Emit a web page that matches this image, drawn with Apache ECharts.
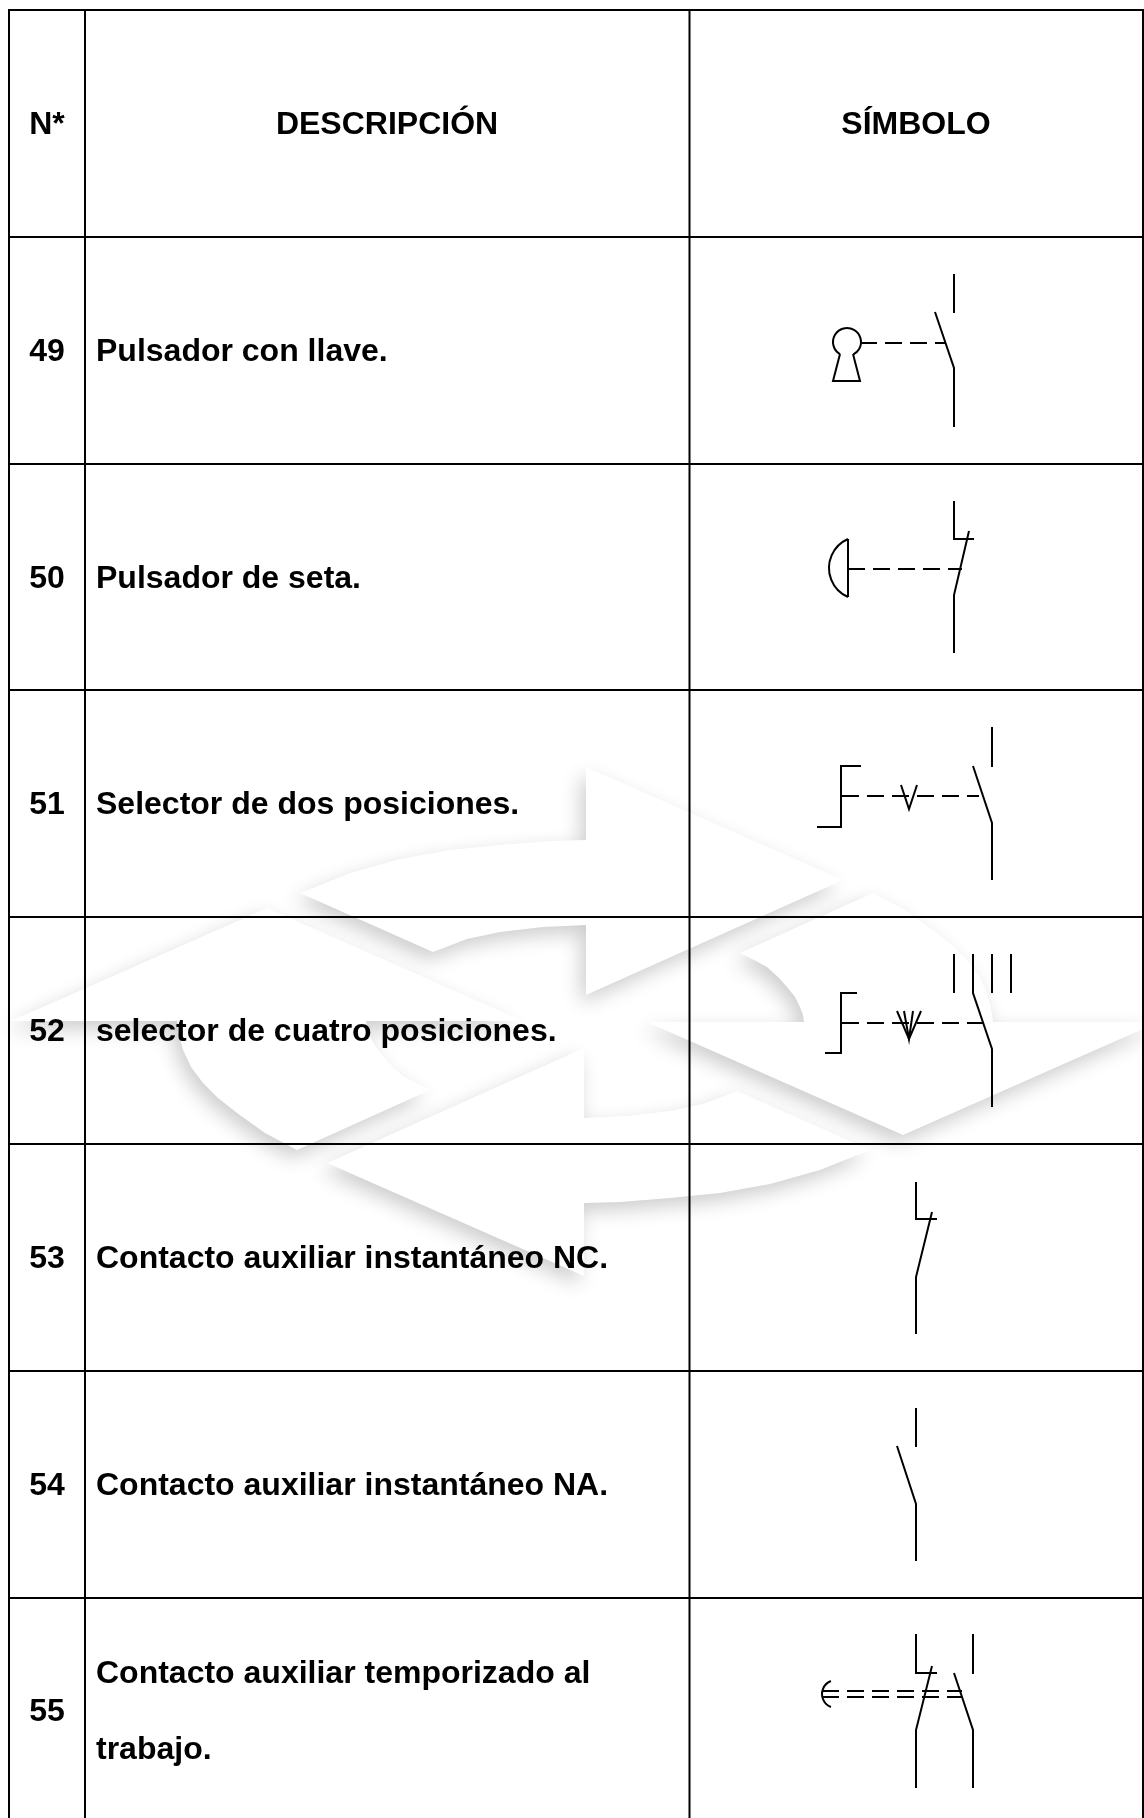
<!DOCTYPE html>
<html>
<head>
<meta charset="utf-8">
<style>html,body{margin:0;padding:0;background:#fff}#c{width:1144px;height:1818px}</style>
<script src="https://cdn.jsdelivr.net/npm/echarts@6/dist/echarts.min.js"></script>
</head>
<body>
<div id="c"></div>
<script>
// Table structure
const rowLines = [10, 237, 464, 690, 917, 1144, 1371, 1598, 1818];
const colLines = [9, 85, 689.5, 1143];
const headers = ['N*', 'DESCRIPCIÓN', 'SÍMBOLO'];
const numbers = ['49', '50', '51', '52', '53', '54', '55'];
const descriptions = [
  ['Pulsador con llave.'],
  ['Pulsador de seta.'],
  ['Selector de dos posiciones.'],
  ['selector de cuatro posiciones.'],
  ['Contacto auxiliar instantáneo NC.'],
  ['Contacto auxiliar instantáneo NA.'],
  ['Contacto auxiliar temporizado al', 'trabajo.']
];

// Symbol drawings, in page units
const solidLines = [
  // 49
  [[954,274],[954,313]], [[935,312],[954,368],[954,427]],
  [[840,354],[833,381],[860,381],[853,354]],
  // 50
  [[954,501],[954,539],[974,539]], [[969,531],[954,595],[954,653]],
  [[848,539],[848,597]],
  // 51
  [[992,727],[992,767]], [[973,766],[992,823],[992,880]],
  [[861,766],[841,766],[841,827],[817,827]],
  [[901,785],[909,809],[917,785]],
  // 52
  [[954,954],[954,993]], [[973,954],[973,993],[992,1049],[992,1107]],
  [[992,954],[992,993]], [[1011,954],[1011,993]],
  [[857,993],[841,993],[841,1053],[825,1053]],
  [[897,1011],[909,1039],[921,1011]], [[904,1011],[909,1039],[913,1011]],
  // 53
  [[916,1182],[916,1219],[937,1219]], [[932,1212],[916,1277],[916,1334]],
  // 54
  [[916,1408],[916,1447]], [[897,1446],[916,1504],[916,1561]],
  // 55
  [[916,1634],[916,1673],[937,1673]], [[932,1666],[916,1730],[916,1788]],
  [[973,1634],[973,1674]], [[954,1673],[973,1730],[973,1788]],
  [[822,1691],[831,1691]]
];
const dashedLines = [
  [[860,343],[945,343]],
  [[848,569],[962,569]],
  [[842,796],[979,796]],
  [[842,1023],[983,1023]],
  [[822,1691],[962,1691]],
  [[822,1697],[962,1697]]
];
// cx, cy, r, start degrees, end degrees
const arcs = [
  [847,342,14,120,423],
  [860.6,568,31.6,113.5,246.5],
  [835.9,1694,13.9,111,249]
];

// Watermark arrows
const wmCenter = [585, 1021.5];
const wmTop = [[586,767],[843,880],[586,995],[586,925],[543,927],[500,932],[467,939],[433,952],[300,893],[350,873],[400,859],[450,850],[500,845],[550,841],[586,840]];
const wmRight = [[873,893],[905,910],[933,930],[952,945],[967,960],[979,976],[987,993],[991,1008],[993,1022],[1159,1022],[903,1135],[647,1022],[804,1022],[803,1015],[800,1007],[795,997],[787,987],[778,977],[767,967],[754,960],[740,953]];
const flip = pts => pts.map(p => [2 * wmCenter[0] - p[0], 2 * wmCenter[1] - p[1]]);
const watermark = [wmTop, wmRight, flip(wmTop), flip(wmRight)];

const gridSegments = [];
rowLines.slice(0, -1).forEach(y => gridSegments.push([[colLines[0] - 1, y], [colLines[3] + 1, y]]));
colLines.forEach(x => gridSegments.push([[x, rowLines[0] - 1], [x, rowLines[8]]]));

const textItems = [];
const FS = 32, NUMX = 47, DESCX = 96, HEADX = [47, 387, 916], TEXTDY = 2, LASTROWDY = 2.5;
headers.forEach((t, i) => textItems.push([t, HEADX[i], (rowLines[0] + rowLines[1]) / 2 + TEXTDY, 'center']));
numbers.forEach((t, i) => textItems.push([t, NUMX, (rowLines[i + 1] + rowLines[i + 2]) / 2 + TEXTDY + (i === 6 ? LASTROWDY : 0), 'center']));
descriptions.forEach((lines, i) => {
  const mid = (rowLines[i + 1] + rowLines[i + 2]) / 2 + TEXTDY + (i === 6 ? LASTROWDY : 0);
  lines.forEach((t, j) => textItems.push([t, DESCX, mid + (j - (lines.length - 1) / 2) * 76, 'left']));
});

const pts = (api, list) => list.map(p => api.coord(p));
const idx = list => list.map((_, i) => [i, 0]);
const axisHidden = { show: false };

const chart = echarts.init(document.getElementById('c'), null, { renderer: 'canvas' });
chart.setOption({
  animation: false,
  backgroundColor: '#ffffff',
  tooltip: { show: false },
  grid: { left: 0, right: 0, top: 0, bottom: 0 },
  xAxis: { type: 'value', min: 0, max: 1144, ...axisHidden },
  yAxis: { type: 'value', min: 0, max: 1818, inverse: true, ...axisHidden },
  series: [
    {
      type: 'custom', silent: true, clip: true, z: 1, data: idx(watermark),
      renderItem: (p, api) => ({
        type: 'polygon',
        shape: { points: pts(api, watermark[p.dataIndex]) },
        style: { fill: '#ffffff', shadowBlur: 20, shadowColor: 'rgba(0,0,0,0.2)', shadowOffsetX: -5, shadowOffsetY: 8 }
      })
    },
    {
      type: 'custom', silent: true, clip: true, z: 2, data: idx(gridSegments),
      renderItem: (p, api) => ({
        type: 'polyline',
        shape: { points: pts(api, gridSegments[p.dataIndex]) },
        style: { stroke: '#000', lineWidth: 2, fill: null }
      })
    },
    {
      type: 'custom', silent: true, z: 3, data: idx(solidLines),
      renderItem: (p, api) => ({
        type: 'polyline',
        shape: { points: pts(api, solidLines[p.dataIndex]) },
        style: { stroke: '#000', lineWidth: 2, fill: null, lineJoin: 'miter' }
      })
    },
    {
      type: 'custom', silent: true, z: 3, data: idx(dashedLines),
      renderItem: (p, api) => ({
        type: 'polyline',
        shape: { points: pts(api, dashedLines[p.dataIndex]) },
        style: { stroke: '#000', lineWidth: 2, fill: null, lineDash: [17, 8] }
      })
    },
    {
      type: 'custom', silent: true, z: 3, data: idx(arcs),
      renderItem: (p, api) => {
        const a = arcs[p.dataIndex];
        const c = api.coord([a[0], a[1]]);
        return {
          type: 'arc',
          shape: { cx: c[0], cy: c[1], r: a[2], startAngle: a[3] * Math.PI / 180, endAngle: a[4] * Math.PI / 180, clockwise: true },
          style: { stroke: '#000', lineWidth: 2, fill: null }
        };
      }
    },
    {
      type: 'custom', silent: true, z: 4, data: idx(textItems),
      renderItem: (p, api) => {
        const t = textItems[p.dataIndex];
        const c = api.coord([t[1], t[2]]);
        return {
          type: 'text', x: c[0], y: c[1],
          style: {
            text: t[0], fill: '#000', align: t[3], verticalAlign: 'middle',
            font: 'bold ' + FS + 'px "Liberation Sans", Arial, sans-serif'
          }
        };
      }
    }
  ]
});
</script>
</body>
</html>
